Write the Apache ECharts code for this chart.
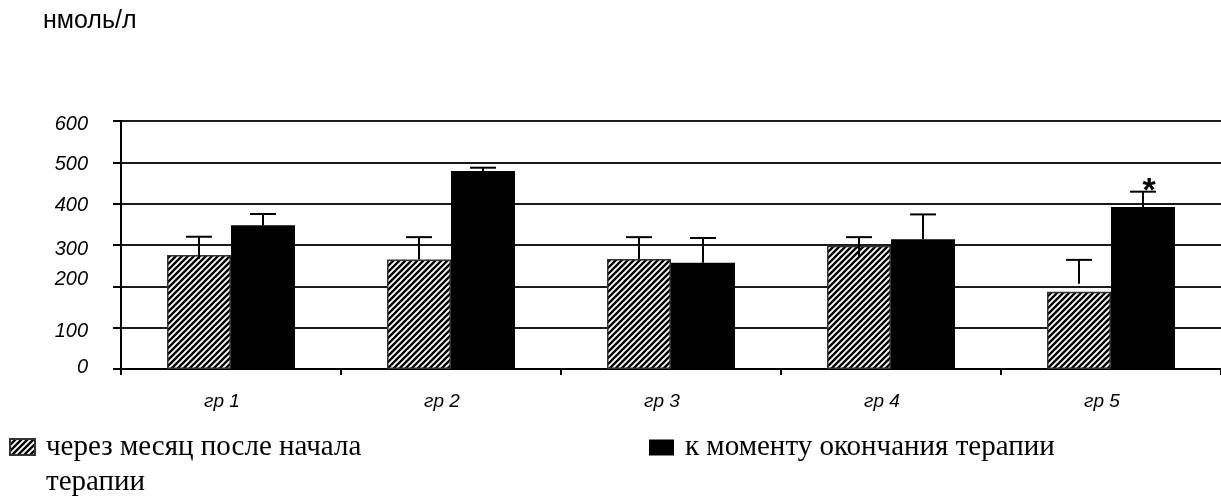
<!DOCTYPE html>
<html>
<head>
<meta charset="utf-8">
<script src="https://cdn.jsdelivr.net/npm/echarts@6/dist/echarts.min.js"></script>
<style>
  html, body { margin: 0; padding: 0; background: #fff; }
  #chart { width: 1221px; height: 500px; }
</style>
</head>
<body>
<div id="chart"></div>
<script>
// ---- data ----
const categories = ['гр 1', 'гр 2', 'гр 3', 'гр 4', 'гр 5'];
const seriesNames = ['через месяц после начала терапии', 'к моменту окончания терапии'];
const monthValues = [276, 265, 266, 298, 187];
const monthErrHigh = [320, 319, 319, 319, 264];
const monthErrLow = [266, 265, 266, 269, 206];
const endValues = [348, 479, 257, 314, 392];
const endErrHigh = [375, 487, 317, 374, 429];
const endErrLow = [348, 479, 257, 314, 392];
const endMarks = ['', '', '', '', '*'];
const yTicks = [0, 100, 200, 300, 400, 500, 600];
const unitLabel = 'нмоль/л';

// ---- styling helpers ----
function makeHatch() {
  const s = 6;
  const c = document.createElement('canvas');
  c.width = s; c.height = s;
  const g = c.getContext('2d');
  g.fillStyle = '#fff';
  g.fillRect(0, 0, s, s);
  g.strokeStyle = '#000';
  g.lineWidth = 2.4;
  g.beginPath();
  g.moveTo(-1, s + 1); g.lineTo(s + 1, -1);
  g.moveTo(-1, 1); g.lineTo(1, -1);
  g.moveTo(s - 1, s + 1); g.lineTo(s + 1, s - 1);
  g.stroke();
  return c;
}
const hatch = { image: makeHatch(), repeat: 'repeat' };

// vertical nudges of the y tick labels (styling)
const labelNudge = { 0: -1.3, 100: 3.7, 200: -7.3, 300: 4.3, 400: 2, 500: 2.4, 600: 3 };
const yRich = {};
yTicks.forEach(v => {
  const n = labelNudge[v] || 0;
  yRich['t' + v] = {
    fontFamily: 'Liberation Sans', fontStyle: 'italic', fontSize: 20, color: '#000',
    padding: n >= 0 ? [n * 2, 0, 0, 0] : [0, 0, -n * 2, 0]
  };
});

const BAR_W = 64;

const errData = [];
categories.forEach((c, i) => {
  errData.push([i, monthErrLow[i], monthErrHigh[i], 0]);
  errData.push([i, endErrLow[i], endErrHigh[i], 1]);
});

const chart = echarts.init(document.getElementById('chart'), null, { renderer: 'canvas' });
chart.setOption({
  animation: false,
  backgroundColor: '#fff',
  title: {
    text: unitLabel,
    left: 43, top: 9, padding: 0,
    textStyle: { fontFamily: 'Liberation Sans', fontSize: 25, fontWeight: 'normal', color: '#000' }
  },
  legend: [
    {
      data: [seriesNames[0]],
      left: 9, top: 394.5, padding: 0,
      itemWidth: 25, itemHeight: 16,
      icon: 'rect',
      selectedMode: false,
      formatter: n => '\n' + n.replace(' терапии', '\nтерапии'),
      textStyle: {
        fontFamily: 'Liberation Serif', fontSize: 29, color: '#000',
        lineHeight: 35, padding: [0, 0, 0, 6]
      }
    },
    {
      data: [seriesNames[1]],
      left: 649, top: 430, padding: 0,
      itemWidth: 25, itemHeight: 16,
      icon: 'rect',
      selectedMode: false,
      textStyle: {
        fontFamily: 'Liberation Serif', fontSize: 29, color: '#000',
        lineHeight: 35, padding: [0, 0, 0, 6]
      }
    }
  ],
  grid: { left: 121, right: -2, top: 121, bottom: 131, containLabel: false },
  xAxis: {
    type: 'category',
    data: categories,
    boundaryGap: true,
    axisLine: { show: true, lineStyle: { color: '#000', width: 2 } },
    axisTick: { show: true, interval: 0, length: 6, lineStyle: { color: '#000', width: 2 } },
    axisLabel: {
      fontFamily: 'Liberation Sans', fontStyle: 'italic', fontSize: 19, color: '#000',
      margin: 23, padding: [0, 18, 0, 0]
    }
  },
  yAxis: {
    type: 'value',
    min: 0, max: 600, interval: 100,
    axisLine: { show: true, lineStyle: { color: '#000', width: 2 } },
    axisTick: { show: true, length: 8, lineStyle: { color: '#000', width: 2 } },
    splitLine: { show: true, lineStyle: { color: '#1a1a1a', width: 2 } },
    axisLabel: {
      margin: 33,
      formatter: v => '{t' + v + '|' + v + '}',
      rich: yRich
    }
  },
  series: [
    {
      name: seriesNames[0],
      type: 'bar',
      data: monthValues,
      barWidth: BAR_W,
      barGap: '0%',
      itemStyle: { color: hatch, borderColor: '#333', borderWidth: 1.5 },
      z: 2
    },
    {
      name: seriesNames[1],
      type: 'bar',
      data: endValues,
      barWidth: BAR_W,
      barGap: '0%',
      itemStyle: { color: '#000' },
      z: 2
    },
    {
      type: 'custom',
      data: errData,
      encode: { x: 0, y: [1, 2] },
      z: 5,
      silent: true,
      renderItem: function (params, api) {
        const cat = api.value(0);
        const lo = api.value(1);
        const hi = api.value(2);
        const s = api.value(3);
        const pHi = api.coord([cat, hi]);
        const pLo = api.coord([cat, lo]);
        const x = pHi[0] + (s === 0 ? -BAR_W / 2 : BAR_W / 2);
        const style = { stroke: '#000', lineWidth: 2 };
        const children = [
          { type: 'line', shape: { x1: x, y1: pLo[1], x2: x, y2: pHi[1] }, style: style },
          { type: 'line', shape: { x1: x - 13, y1: pHi[1], x2: x + 13, y2: pHi[1] }, style: style }
        ];
        if (s === 1 && endMarks[cat]) {
          children.push({
            type: 'text',
            style: {
              x: x + 6, y: pHi[1] - 0.5, text: endMarks[cat],
              fontFamily: 'Liberation Sans', fontWeight: 'bold', fontSize: 34,
              fill: '#000', align: 'center', verticalAlign: 'middle'
            }
          });
        }
        return { type: 'group', children: children };
      }
    }
  ]
});
</script>
</body>
</html>
